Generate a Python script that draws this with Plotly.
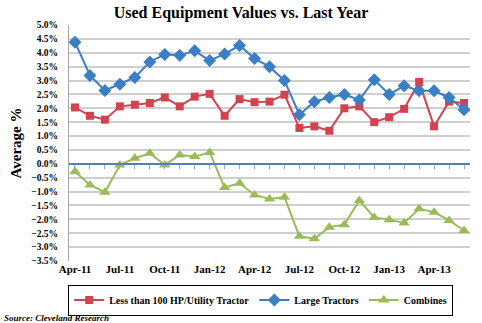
import plotly.graph_objects as go

months = ["Apr-11","May-11","Jun-11","Jul-11","Aug-11","Sep-11","Oct-11","Nov-11","Dec-11",
          "Jan-12","Feb-12","Mar-12","Apr-12","May-12","Jun-12","Jul-12","Aug-12","Sep-12",
          "Oct-12","Nov-12","Dec-12","Jan-13","Feb-13","Mar-13","Apr-13","May-13","Jun-13"]
tick_labels = ["Apr-11","Jul-11","Oct-11","Jan-12","Apr-12","Jul-12","Oct-12","Jan-13","Apr-13"]

utility = [2.03, 1.73, 1.59, 2.07, 2.13, 2.19, 2.39, 2.07, 2.42, 2.52, 1.73, 2.33, 2.22, 2.24,
           2.49, 1.29, 1.35, 1.19, 2.00, 2.07, 1.50, 1.68, 1.98, 2.95, 1.35, 2.24, 2.19]
large = [4.38, 3.18, 2.64, 2.87, 3.11, 3.67, 3.94, 3.91, 4.07, 3.72, 3.96, 4.26, 3.79, 3.50,
         3.00, 1.77, 2.24, 2.39, 2.50, 2.30, 3.03, 2.50, 2.81, 2.63, 2.63, 2.39, 1.95]
combines = [-0.28, -0.76, -1.02, -0.04, 0.20, 0.38, -0.04, 0.32, 0.26, 0.41, -0.85, -0.70, -1.12,
            -1.27, -1.20, -2.61, -2.70, -2.28, -2.19, -1.32, -1.93, -2.01, -2.13, -1.62, -1.74,
            -2.04, -2.40]

xi = list(range(len(months)))
tickvals = [months.index(t) for t in tick_labels]

FONT = "Liberation Serif"
RED, BLUE, GREEN = "#d0434f", "#3a7fc3", "#9bbb59"

fig = go.Figure()
fig.add_trace(go.Scatter(x=xi, y=utility, name="Less than 100 HP/Utility Tractor",
                         mode="lines+markers", line=dict(color=RED, width=2),
                         marker=dict(symbol="square", size=8, color=RED)))
fig.add_trace(go.Scatter(x=xi, y=large, name="Large Tractors",
                         mode="lines+markers", line=dict(color=BLUE, width=2),
                         marker=dict(symbol="diamond", size=10, color=BLUE)))
fig.add_trace(go.Scatter(x=xi, y=combines, name="Combines",
                         mode="lines+markers", line=dict(color=GREEN, width=2),
                         marker=dict(symbol="triangle-up", size=10, color=GREEN)))
# helper trace for the zero-crossing category axis
fig.add_trace(go.Scatter(x=[0], y=[0], xaxis="x2", mode="lines", showlegend=False,
                         hoverinfo="skip", line=dict(color="rgba(0,0,0,0)")))

ymin, ymax = -3.5, 5.0
fig.update_layout(
    width=482, height=323,
    margin=dict(l=69, r=12, t=25, b=62, autoexpand=False),
    paper_bgcolor="white", plot_bgcolor="white",
    font=dict(family=FONT, color="black"),
    title=dict(text="<b>Used Equipment Values vs. Last Year</b>", x=0.5, xanchor="center",
               y=1 - 12/323, yanchor="middle", font=dict(size=16, family=FONT)),
    xaxis=dict(range=[-0.4, 26.4], tickvals=tickvals, ticktext=tick_labels,
               tickfont=dict(size=11, family=FONT, weight="bold"), showgrid=False, showline=False,
               zeroline=False, ticks=""),
    xaxis2=dict(overlaying="x", matches="x", anchor="free", position=(0 - ymin) / (ymax - ymin),
                showticklabels=False, ticks="outside", ticklen=4, tickcolor="#9aa7b8",
                tickmode="linear", tick0=0, dtick=1, showline=True, linecolor="#4f81bd",
                linewidth=1.5, showgrid=False, zeroline=False),
    yaxis=dict(range=[ymin, ymax], dtick=0.5, tick0=0, tickformat=".1f", ticksuffix="%",
               tickfont=dict(size=9.5, family=FONT, weight="bold"), showgrid=True,
               gridcolor="#cfcfcf", gridwidth=1.5, showline=True, linecolor="#a6a6a6",
               linewidth=1, zeroline=False, ticklabelstandoff=8,
               title=dict(text="<b>Average %</b>", font=dict(size=15, family=FONT), standoff=6)),
    legend=dict(orientation="h", x=0.478, xanchor="center", y=-0.100, yanchor="top",
                bordercolor="black", borderwidth=1,
                font=dict(size=10, family=FONT, weight="bold"),
                itemwidth=30, tracegroupgap=0),
    showlegend=True,
)
fig.add_annotation(text="<b><i>Source: Cleveland Research</i></b>", xref="paper", yref="paper",
                   x=-67/401, xanchor="left", y=-(317.5 - 261)/236, yanchor="middle",
                   showarrow=False, font=dict(size=9, family=FONT))

fig.write_html("out.html")
